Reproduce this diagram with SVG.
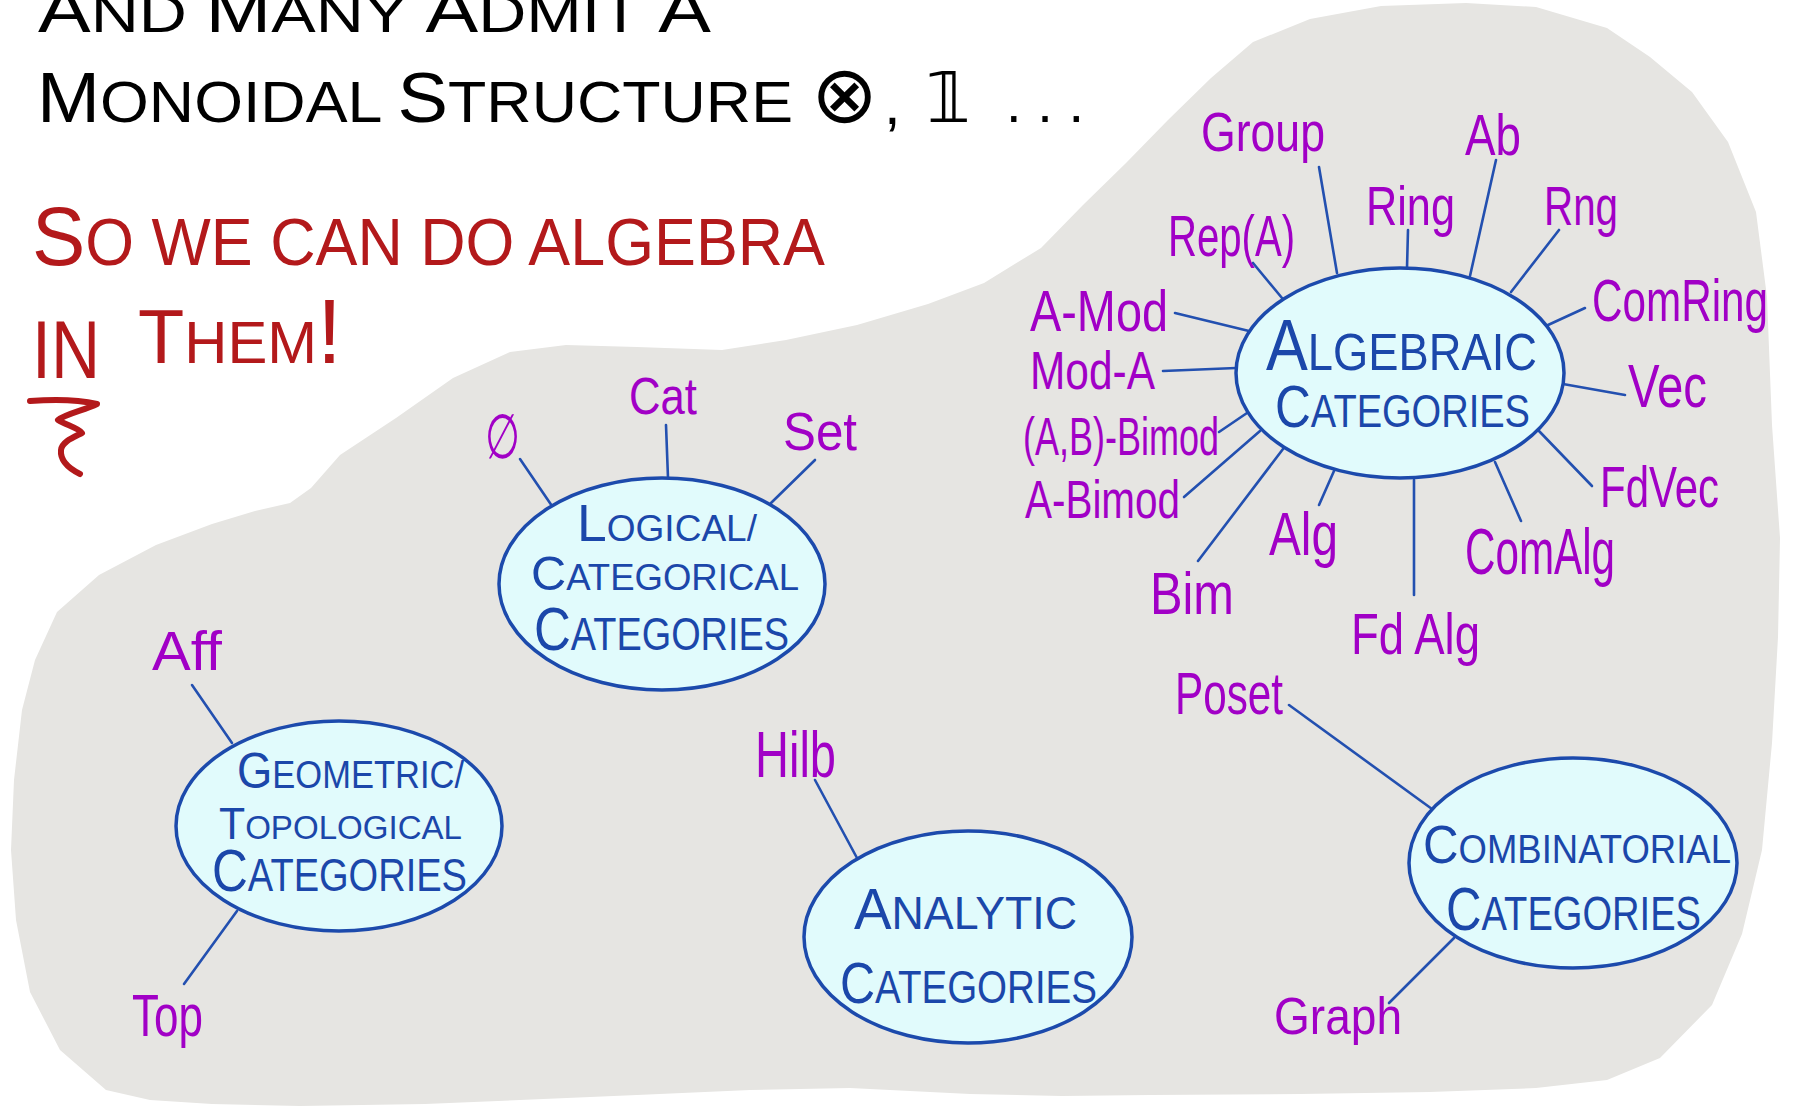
<svg xmlns="http://www.w3.org/2000/svg" width="1797" height="1110" viewBox="0 0 1797 1110">
<style>
text { font-family: "Liberation Sans", "DejaVu Sans", sans-serif; }
.blk { fill: #000000; }
.red { fill: #b3191b; }
.lbl { fill: #a100c6; }
.cat { fill: #1b47aa; }
.node { fill: #e1fbfc; stroke: #1c4aac; stroke-width: 3.5; }
.edge { stroke: #2350b0; stroke-width: 2.6; stroke-linecap: round; fill: none; }
.blob { fill: #e6e5e2; }
.squig { fill: none; stroke: #b3191b; stroke-width: 6; stroke-linecap: round; stroke-linejoin: round; }
</style>
<rect width="1797" height="1110" fill="#ffffff"/>
<path class="blob" d="M106,1090 L60,1050 L30,992 L16,920 L11,850 L14,780 L22,710 L35,660 L57,612 L99,575 L156,545 L212,524 L255,511 L290,503 L311,488 L340,455 L396,418 L453,378 L510,352 L566,345 L637,347 L722,350 L786,340 L857,325 L928,304 L984,283 L1041,248 L1083,205 L1126,163 L1168,120 L1211,78 L1253,42 L1310,19 L1381,6 L1466,3 L1536,7 L1607,28 L1650,57 L1692,92 L1728,142 L1756,212 L1767,297 L1772,425 L1780,538 L1778,637 L1772,743 L1762,850 L1742,934 L1712,1005 L1660,1058 L1607,1080 L1536,1088 L1430,1092 L1300,1094 L1150,1095 L1062,1096 L970,1094 L850,1088 L750,1090 L637,1095 L520,1100 L425,1104 L300,1106 L212,1104 L150,1100 Z"/>

<!-- heading texts -->
<text class="blk" x="38" y="32" font-size="54" textLength="673" lengthAdjust="spacingAndGlyphs"><tspan font-size="64">A</tspan>ND <tspan font-size="64">M</tspan>ANY <tspan font-size="64">A</tspan>DMIT <tspan font-size="64">A</tspan></text>
<text class="blk" x="37" y="122" font-size="58" textLength="756" lengthAdjust="spacingAndGlyphs"><tspan font-size="70">M</tspan>ONOIDAL <tspan font-size="70">S</tspan>TRUCTURE</text>
<text class="blk" x="811" y="122" font-size="80" font-family="DejaVu Sans, sans-serif">⊗</text>
<text class="blk" x="884" y="124" font-size="60">,</text>
<text class="blk" x="926" y="122" font-size="70" font-family="DejaVu Sans, sans-serif">𝟙</text>
<text class="blk" x="1006" y="122" font-size="56" textLength="78" lengthAdjust="spacing">...</text>

<text class="red" x="32" y="265" font-size="66" textLength="793" lengthAdjust="spacingAndGlyphs"><tspan font-size="84">S</tspan>O WE CAN DO ALGEBRA</text>
<text class="red" x="32" y="378" font-size="82" textLength="68" lengthAdjust="spacingAndGlyphs">IN</text>
<text class="red" x="138" y="363" font-size="60" textLength="204" lengthAdjust="spacingAndGlyphs"><tspan font-size="76">T</tspan>HEM<tspan font-size="90">!</tspan></text>
<path class="squig" d="M30,401 C55,399 80,400 97,404 C85,410 65,414 58,420 C66,425 78,428 82,433 C72,438 62,442 61,450 C60,460 68,468 80,474"/>

<!-- connectors -->
<g id="connectors">
  <line class="edge" x1="520" y1="459" x2="552" y2="506"/>
  <line class="edge" x1="666" y1="425" x2="668" y2="478"/>
  <line class="edge" x1="815" y1="460" x2="771" y2="503"/>
  <line class="edge" x1="192" y1="685" x2="232" y2="743"/>
  <line class="edge" x1="237" y1="911" x2="184" y2="984"/>
  <line class="edge" x1="815" y1="780" x2="857" y2="858"/>
  <line class="edge" x1="1289" y1="705" x2="1432" y2="809"/>
  <line class="edge" x1="1389" y1="1003" x2="1454" y2="938"/>
  <line class="edge" x1="1319" y1="167" x2="1337" y2="273"/>
  <line class="edge" x1="1496" y1="160" x2="1470" y2="276"/>
  <line class="edge" x1="1408" y1="230" x2="1407" y2="268"/>
  <line class="edge" x1="1559" y1="230" x2="1511" y2="292"/>
  <line class="edge" x1="1253" y1="263" x2="1282" y2="298"/>
  <line class="edge" x1="1585" y1="308" x2="1548" y2="325"/>
  <line class="edge" x1="1175" y1="313" x2="1249" y2="331"/>
  <line class="edge" x1="1163" y1="371" x2="1236" y2="368"/>
  <line class="edge" x1="1625" y1="395" x2="1563" y2="384"/>
  <line class="edge" x1="1219" y1="432" x2="1247" y2="413"/>
  <line class="edge" x1="1184" y1="497" x2="1260" y2="431"/>
  <line class="edge" x1="1592" y1="486" x2="1539" y2="431"/>
  <line class="edge" x1="1319" y1="505" x2="1334" y2="471"/>
  <line class="edge" x1="1521" y1="521" x2="1495" y2="462"/>
  <line class="edge" x1="1198" y1="561" x2="1283" y2="449"/>
  <line class="edge" x1="1414" y1="595" x2="1414" y2="480"/>
</g>

<!-- category nodes -->
<g id="node-logical">
  <ellipse class="node" cx="662" cy="584" rx="163" ry="106"/>
  <text class="cat" x="577" y="541" font-size="36" textLength="180" lengthAdjust="spacingAndGlyphs"><tspan font-size="52">L</tspan>OGICAL/</text>
  <text class="cat" x="531" y="590" font-size="36" textLength="268" lengthAdjust="spacingAndGlyphs"><tspan font-size="48">C</tspan>ATEGORICAL</text>
  <text class="cat" x="534" y="650" font-size="46" textLength="255" lengthAdjust="spacingAndGlyphs"><tspan font-size="62">C</tspan>ATEGORIES</text>
</g>
<g id="node-geometric">
  <ellipse class="node" cx="339" cy="826" rx="163" ry="105"/>
  <text class="cat" x="237" y="788" font-size="38" textLength="227" lengthAdjust="spacingAndGlyphs"><tspan font-size="50">G</tspan>EOMETRIC/</text>
  <text class="cat" x="219" y="839" font-size="34" textLength="243" lengthAdjust="spacingAndGlyphs"><tspan font-size="44">T</tspan>OPOLOGICAL</text>
  <text class="cat" x="212" y="891" font-size="46" textLength="255" lengthAdjust="spacingAndGlyphs"><tspan font-size="60">C</tspan>ATEGORIES</text>
</g>
<g id="node-analytic">
  <ellipse class="node" cx="968" cy="937" rx="164" ry="106"/>
  <text class="cat" x="854" y="929" font-size="46" textLength="223" lengthAdjust="spacingAndGlyphs"><tspan font-size="58">A</tspan>NALYTIC</text>
  <text class="cat" x="840" y="1003" font-size="46" textLength="257" lengthAdjust="spacingAndGlyphs"><tspan font-size="58">C</tspan>ATEGORIES</text>
</g>
<g id="node-combinatorial">
  <ellipse class="node" cx="1573" cy="863" rx="164" ry="105"/>
  <text class="cat" x="1423" y="863" font-size="40" textLength="308" lengthAdjust="spacingAndGlyphs"><tspan font-size="54">C</tspan>OMBINATORIAL</text>
  <text class="cat" x="1446" y="930" font-size="48" textLength="255" lengthAdjust="spacingAndGlyphs"><tspan font-size="62">C</tspan>ATEGORIES</text>
</g>
<g id="node-algebraic">
  <ellipse class="node" cx="1400" cy="373" rx="164" ry="105"/>
  <text class="cat" x="1266" y="370" font-size="52" textLength="271" lengthAdjust="spacingAndGlyphs"><tspan font-size="72">A</tspan>LGEBRAIC</text>
  <text class="cat" x="1275" y="427" font-size="46" textLength="255" lengthAdjust="spacingAndGlyphs"><tspan font-size="60">C</tspan>ATEGORIES</text>
</g>

<!-- example labels -->
<g id="lbl-emptyset"><text class="lbl" x="485" y="458" font-size="62" textLength="35" lengthAdjust="spacingAndGlyphs">∅</text></g>
<g id="lbl-cat"><text class="lbl" x="629" y="414" font-size="52" textLength="68" lengthAdjust="spacingAndGlyphs">Cat</text></g>
<g id="lbl-set"><text class="lbl" x="783" y="450" font-size="54" textLength="74" lengthAdjust="spacingAndGlyphs">Set</text></g>
<g id="lbl-aff"><text class="lbl" x="152" y="670" font-size="56" textLength="70" lengthAdjust="spacingAndGlyphs">Aff</text></g>
<g id="lbl-top"><text class="lbl" x="132" y="1036" font-size="60" textLength="71" lengthAdjust="spacingAndGlyphs">Top</text></g>
<g id="lbl-hilb"><text class="lbl" x="755" y="777" font-size="64" textLength="81" lengthAdjust="spacingAndGlyphs">Hilb</text></g>
<g id="lbl-poset"><text class="lbl" x="1175" y="714" font-size="60" textLength="108" lengthAdjust="spacingAndGlyphs">Poset</text></g>
<g id="lbl-graph"><text class="lbl" x="1274" y="1034" font-size="52" textLength="128" lengthAdjust="spacingAndGlyphs">Graph</text></g>
<g id="lbl-group"><text class="lbl" x="1201" y="151" font-size="56" textLength="124" lengthAdjust="spacingAndGlyphs">Group</text></g>
<g id="lbl-ab"><text class="lbl" x="1465" y="155" font-size="58" textLength="56" lengthAdjust="spacingAndGlyphs">Ab</text></g>
<g id="lbl-ring"><text class="lbl" x="1366" y="225" font-size="56" textLength="89" lengthAdjust="spacingAndGlyphs">Ring</text></g>
<g id="lbl-rng"><text class="lbl" x="1544" y="225" font-size="56" textLength="74" lengthAdjust="spacingAndGlyphs">Rng</text></g>
<g id="lbl-repa"><text class="lbl" x="1168" y="256" font-size="58" textLength="127" lengthAdjust="spacingAndGlyphs">Rep(A)</text></g>
<g id="lbl-comring"><text class="lbl" x="1592" y="321" font-size="60" textLength="176" lengthAdjust="spacingAndGlyphs">ComRing</text></g>
<g id="lbl-amod"><text class="lbl" x="1030" y="331" font-size="58" textLength="138" lengthAdjust="spacingAndGlyphs">A-Mod</text></g>
<g id="lbl-moda"><text class="lbl" x="1030" y="389" font-size="54" textLength="125" lengthAdjust="spacingAndGlyphs">Mod-A</text></g>
<g id="lbl-vec"><text class="lbl" x="1628" y="407" font-size="62" textLength="79" lengthAdjust="spacingAndGlyphs">Vec</text></g>
<g id="lbl-abbimod"><text class="lbl" x="1023" y="455" font-size="54" textLength="196" lengthAdjust="spacingAndGlyphs">(A,B)-Bimod</text></g>
<g id="lbl-abimod"><text class="lbl" x="1025" y="518" font-size="54" textLength="155" lengthAdjust="spacingAndGlyphs">A-Bimod</text></g>
<g id="lbl-fdvec"><text class="lbl" x="1600" y="507" font-size="58" textLength="119" lengthAdjust="spacingAndGlyphs">FdVec</text></g>
<g id="lbl-alg"><text class="lbl" x="1269" y="555" font-size="62" textLength="69" lengthAdjust="spacingAndGlyphs">Alg</text></g>
<g id="lbl-comalg"><text class="lbl" x="1465" y="574" font-size="64" textLength="150" lengthAdjust="spacingAndGlyphs">ComAlg</text></g>
<g id="lbl-bim"><text class="lbl" x="1150" y="614" font-size="60" textLength="84" lengthAdjust="spacingAndGlyphs">Bim</text></g>
<g id="lbl-fdalg"><text class="lbl" x="1351" y="654" font-size="58" textLength="129" lengthAdjust="spacingAndGlyphs">Fd Alg</text></g>
</svg>
